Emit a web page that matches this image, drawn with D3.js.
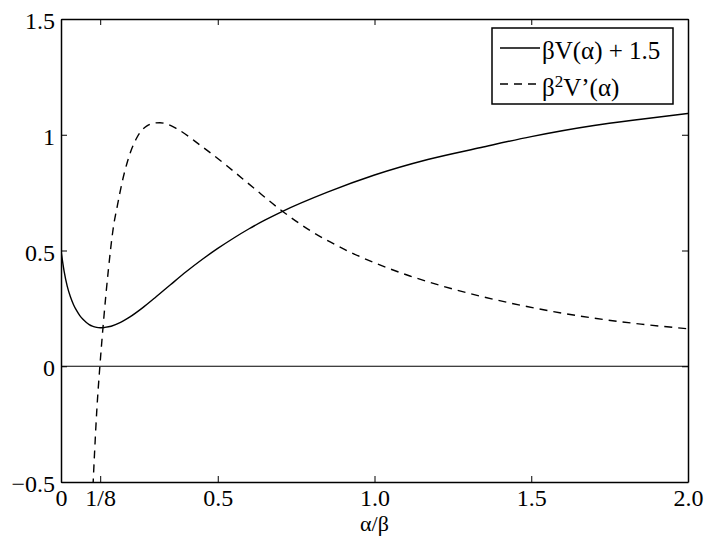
<!DOCTYPE html>
<html lang="en">
<head>
<meta charset="UTF-8">
<script src="https://cdn.jsdelivr.net/npm/d3@7"></script>
<style>
  body { margin: 0; background: #fff; }
  text { font-family: "Liberation Serif", "Times New Roman", serif; }
</style>
<title>beta V(alpha)</title>
</head>
<body>
<script>
// values
const solidAlpha = [0, 0.01, 0.02, 0.03, 0.04, 0.05, 0.06, 0.07, 0.08, 0.09, 0.1, 0.11, 0.125, 0.14, 0.16, 0.19, 0.22, 0.26, 0.3, 0.35, 0.4, 0.45, 0.5, 0.55, 0.6, 0.65, 0.7, 0.85, 1.0, 1.17, 1.34, 1.5, 1.7, 1.85, 2.0];
const solidValue = [0.5, 0.41, 0.345, 0.3, 0.266, 0.24, 0.219, 0.203, 0.19, 0.18, 0.173, 0.169, 0.166, 0.168, 0.173, 0.189, 0.213, 0.252, 0.296, 0.353, 0.409, 0.461, 0.509, 0.553, 0.594, 0.631, 0.665, 0.752, 0.826, 0.893, 0.945, 0.992, 1.04, 1.067, 1.092];

const dashAlpha = [0.1, 0.107, 0.114, 0.124, 0.135, 0.151, 0.167, 0.18, 0.195, 0.21, 0.225, 0.241, 0.257, 0.273, 0.295, 0.316, 0.34, 0.368, 0.443, 0.529, 0.613, 0.7, 0.794, 0.901, 1.007, 1.113, 1.22, 1.337, 1.486, 1.698, 1.85, 2.0];
const dashValue = [-0.58, -0.375, -0.195, 0, 0.184, 0.415, 0.6, 0.695, 0.795, 0.875, 0.937, 0.985, 1.018, 1.037, 1.05, 1.052, 1.045, 1.027, 0.956, 0.866, 0.772, 0.676, 0.587, 0.507, 0.443, 0.39, 0.345, 0.303, 0.258, 0.208, 0.182, 0.162];

const xTicks = [0, 0.125, 0.5, 1.0, 1.5, 2.0];
const xTickLabels = ["0", "1/8", "0.5", "1.0", "1.5", "2.0"];
const yTicks = [-0.5, 0, 0.5, 1, 1.5];
const yTickLabels = ["\u22120.5", "0", "0.5", "1", "1.5"];

const w = 706, h = 536;
const plotL = 61, plotR = 688, plotT = 19, plotB = 482;
const fontSize = 24;
const legendFont = 25;

const svg = d3.select("body").append("svg")
    .attr("width", w)
    .attr("height", h);

const x = d3.scaleLinear().domain([0, 2]).range([plotL, plotR]);
const y = d3.scaleLinear().domain([-0.5, 1.5]).range([plotB, plotT]);

// clip for curves
svg.append("clipPath").attr("id", "plotclip")
    .append("rect")
    .attr("x", plotL).attr("y", plotT)
    .attr("width", plotR - plotL).attr("height", plotB - plotT);

// zero line
svg.append("line")
    .attr("x1", x(0)).attr("x2", x(2))
    .attr("y1", y(0)).attr("y2", y(0))
    .attr("stroke", "#000")
    .attr("stroke-width", 1.2);

const line = d3.line()
    .x(d => x(d[0]))
    .y(d => y(d[1]))
    .curve(d3.curveMonotoneX);

const solidPts = solidAlpha.map((a, i) => [a, solidValue[i]]);
const dashPts = dashAlpha.map((a, i) => [a, dashValue[i]]);

svg.append("path")
    .datum(solidPts)
    .attr("clip-path", "url(#plotclip)")
    .attr("fill", "none")
    .attr("stroke", "#000")
    .attr("stroke-width", 1.4)
    .attr("d", line);

svg.append("path")
    .datum(dashPts)
    .attr("clip-path", "url(#plotclip)")
    .attr("fill", "none")
    .attr("stroke", "#000")
    .attr("stroke-width", 1.4)
    .attr("stroke-dasharray", "8,6")
    .attr("d", line);

// axes, ticks pointing inward
const styleAxis = g => {
    g.selectAll(".domain").attr("stroke", "#000").attr("stroke-width", 1.5);
    g.selectAll(".tick line").attr("stroke", "#000").attr("stroke-width", 1);
    g.selectAll(".tick text")
        .attr("fill", "#000")
        .style("font-family", "'Liberation Serif', serif")
        .style("font-size", fontSize + "px");
};

svg.append("g")
    .attr("transform", `translate(0,${plotB})`)
    .call(d3.axisBottom(x).tickValues(xTicks)
        .tickFormat((d, i) => xTickLabels[i])
        .tickSize(-6).tickSizeOuter(0).tickPadding(7))
    .call(styleAxis);

svg.append("g")
    .attr("transform", `translate(0,${plotT})`)
    .call(d3.axisTop(x).tickValues(xTicks).tickFormat("")
        .tickSize(-6).tickSizeOuter(0))
    .call(styleAxis);

svg.append("g")
    .attr("transform", `translate(${plotL},0)`)
    .call(d3.axisLeft(y).tickValues(yTicks)
        .tickFormat((d, i) => yTickLabels[i])
        .tickSize(-6).tickSizeOuter(0).tickPadding(6))
    .call(styleAxis)
    .call(g => g.selectAll(".tick text").attr("dy", "0.4em"));

svg.append("g")
    .attr("transform", `translate(${plotR},0)`)
    .call(d3.axisRight(y).tickValues(yTicks).tickFormat("")
        .tickSize(-6).tickSizeOuter(0))
    .call(styleAxis);

// x label
svg.append("text")
    .attr("x", x(1))
    .attr("y", 531)
    .attr("text-anchor", "middle")
    .style("font-size", "22px")
    .text("\u03b1/\u03b2");

// legend
const legend = svg.append("g");
legend.append("rect")
    .attr("x", 492).attr("y", 28)
    .attr("width", 181).attr("height", 76)
    .attr("fill", "#fff")
    .attr("stroke", "#000")
    .attr("stroke-width", 1.5);

legend.append("line")
    .attr("x1", 500).attr("x2", 540)
    .attr("y1", 48).attr("y2", 48)
    .attr("stroke", "#000").attr("stroke-width", 1.3);
legend.append("text")
    .attr("x", 542).attr("y", 59)
    .style("font-size", legendFont + "px")
    .text("\u03b2V(\u03b1) + 1.5");

legend.append("line")
    .attr("x1", 500).attr("x2", 540)
    .attr("y1", 84).attr("y2", 84)
    .attr("stroke", "#000").attr("stroke-width", 1.3)
    .attr("stroke-dasharray", "8,6");
const t2 = legend.append("text")
    .attr("x", 542).attr("y", 96)
    .style("font-size", legendFont + "px");
t2.append("tspan").text("\u03b2");
t2.append("tspan").attr("dy", -9).style("font-size", "17px").text("2");
t2.append("tspan").attr("dy", 9).text("V\u2019(\u03b1)");
</script>
</body>
</html>
